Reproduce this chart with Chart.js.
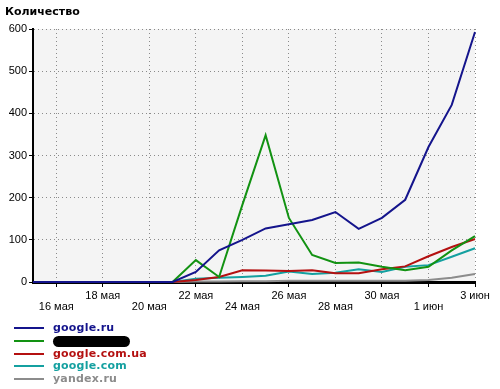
<!DOCTYPE html>
<html>
<head>
<meta charset="utf-8">
<script src="https://cdn.jsdelivr.net/npm/chart.js@4/dist/chart.umd.min.js"></script>
<style>
  body { margin: 0; background: #fff; }
  #wrap { position: relative; width: 500px; height: 389px; }
  #myChart { position: absolute; left: 0; top: 0; }
  .leg { position: absolute; left: 14px; height: 12px; font: bold 11px "DejaVu Sans", Verdana, sans-serif; letter-spacing: 0.2px; }
  .leg i { position: absolute; left: 0; top: 5px; width: 30px; height: 2px; }
  .leg span { position: absolute; left: 39px; top: -1px; white-space: nowrap; }
  .leg b.blot { position: absolute; left: 39px; top: 1px; width: 77px; height: 11px; background: #000; border-radius: 6px; }
</style>
</head>
<body>
<div id="wrap">
  <canvas id="myChart" width="500" height="389"></canvas>
  <div id="legend"></div>
</div>
<script>
/* данные */
const days = ['15 мая','16 мая','17 мая','18 мая','19 мая','20 мая','21 мая','22 мая','23 мая','24 мая',
              '25 мая','26 мая','27 мая','28 мая','29 мая','30 мая','31 мая','1 июн','2 июн','3 июн'];

const googleRu   = [0,0,0,0,0,0,0, 24, 75,100,127,137,147,166,126,152,195,320,420,593];
const hidden     = [0,0,0,0,0,0,0, 52, 12,183,348,152, 64, 45, 46, 36, 28, 36, 75,109];
const googleUa   = [0,0,0,0,0,0,0,  5, 12, 28, 27, 26, 28, 21, 21, 30, 37, 61, 83,102];
const googleCom  = [0,0,0,0,0,0,0,  8, 10, 12, 15, 25, 19, 22, 30, 24, 36, 40, 60, 80];
const yandexRu   = [0,0,0,0,0,0,0,  1,  1,  2,  2,  3,  3,  3,  3,  3,  3,  5, 10, 19];

const yTicks = [0, 100, 200, 300, 400, 500, 600];

const series = [
  { label: 'google.ru',     data: googleRu,  color: '#14148c' },
  { label: '',              data: hidden,    color: '#129212' },
  { label: 'google.com.ua', data: googleUa,  color: '#b41010' },
  { label: 'google.com',    data: googleCom, color: '#14a0a0' },
  { label: 'yandex.ru',     data: yandexRu,  color: '#8c8c8c' }
];

/* легенда */
const legend = document.getElementById('legend');
series.forEach((s, i) => {
  const row = document.createElement('div');
  row.className = 'leg';
  row.style.top = (322 + i * 12.8) + 'px';
  row.innerHTML = '<i style="background:' + s.color + '"></i>' +
    (s.label ? '<span style="color:' + s.color + '">' + s.label + '</span>' : '<b class="blot"></b>');
  legend.appendChild(row);
});

/* фон области графика и заголовок */
const bgPlugin = {
  id: 'bg',
  beforeDraw(chart) {
    const a = chart.chartArea, c = chart.ctx;
    c.save();
    c.fillStyle = '#f4f4f4';
    c.fillRect(a.left, a.top, a.right - a.left, a.bottom - a.top);
    c.fillStyle = '#000';
    c.font = 'bold 11px "DejaVu Sans", Verdana, sans-serif';
    c.textBaseline = 'middle';
    c.fillText('Количество', 5, 12);
    c.restore();
  }
};

const show = i => i % 2 === 1;
const ctx = document.getElementById('myChart');
var config = {
  type: 'line',
  data: {
    labels: days,
    datasets: series.map(s => ({
      label: s.label,
      data: s.data,
      borderColor: s.color,
      borderWidth: 2,
      pointRadius: 0,
      tension: 0,
      fill: false,
      clip: false
    }))
  },
  options: {
    responsive: false,
    animation: false,
    devicePixelRatio: 1,
    layout: { padding: { top: 29, left: 0, right: 25, bottom: 77 } },
    plugins: { legend: { display: false }, tooltip: { enabled: false } },
    scales: {
      x: {
        offset: false,
        afterFit(scale) { scale.height = 30; },
        border: { display: true, color: '#000', width: 3, dash: [1, 3] },
        grid: {
          color: c => show(c.index) ? '#8a8a8a' : 'rgba(0,0,0,0)',
          tickColor: c => show(c.index) ? '#000' : 'rgba(0,0,0,0)',
          lineWidth: 1,
          tickLength: 5,
          tickBorderDash: []
        },
        ticks: {
          autoSkip: false,
          maxRotation: 0,
          minRotation: 0,
          padding: 3,
          color: '#000',
          font: { family: '"Liberation Sans", Arial, sans-serif', size: 11, lineHeight: 1 },
          callback: function (value, index) {
            if (!show(index)) return '';
            const lab = days[index];
            return ((index - 1) / 2) % 2 === 0 ? ['', lab] : [lab, ''];
          }
        }
      },
      y: {
        min: 0,
        max: 600,
        afterFit(scale) { scale.width = 33; },
        afterBuildTicks(scale) { scale.ticks = yTicks.map(v => ({ value: v })); },
        border: { display: true, color: '#000', width: 2, dash: [1, 3] },
        grid: {
          color: '#8a8a8a',
          tickColor: '#000',
          lineWidth: 1,
          tickLength: 4,
          tickBorderDash: []
        },
        ticks: {
          padding: 2,
          color: '#000',
          font: { family: '"Liberation Sans", Arial, sans-serif', size: 11 }
        }
      }
    }
  },
  plugins: [bgPlugin]
};

var myChart = new Chart(ctx, config);
</script>
</body>
</html>
